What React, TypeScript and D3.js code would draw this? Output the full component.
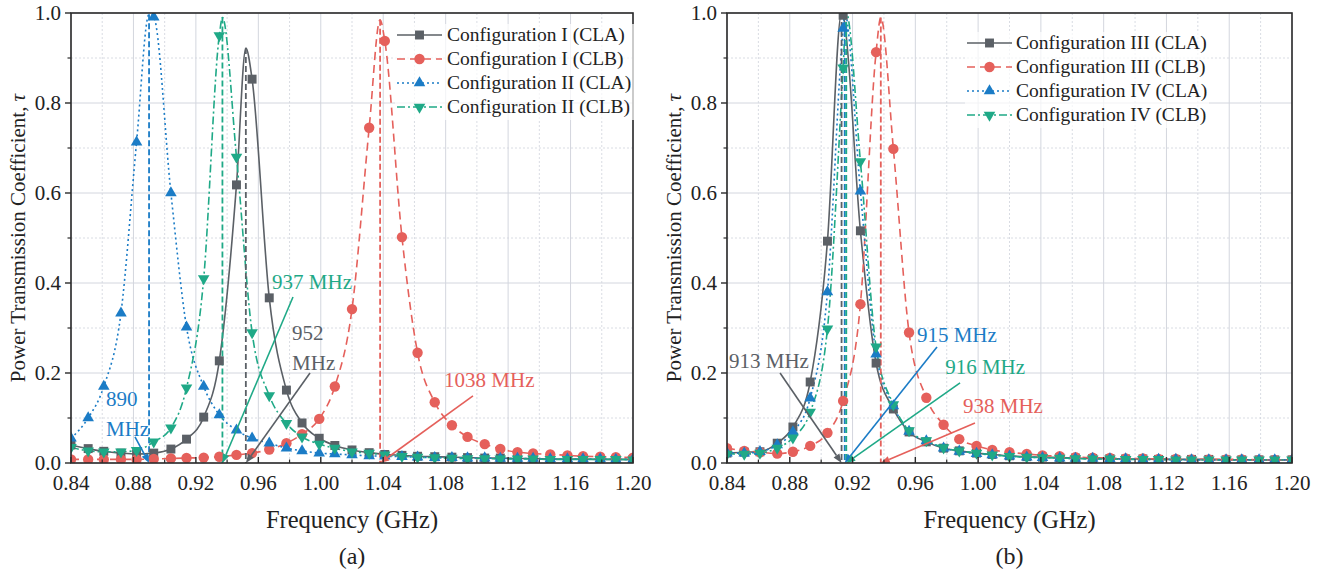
import React from 'react';
import * as d3 from 'd3';

// sampled frequencies (GHz) where markers sit
const freqs = [
  0.840, 0.851, 0.861, 0.872, 0.882, 0.893, 0.904, 0.914, 0.925, 0.935,
  0.946, 0.956, 0.967, 0.978, 0.988, 0.999, 1.009, 1.020, 1.031, 1.041,
  1.052, 1.062, 1.073, 1.084, 1.094, 1.105, 1.115, 1.126, 1.136, 1.147,
  1.158, 1.168, 1.179, 1.189, 1.200,
];

const xMajor = [0.84, 0.88, 0.92, 0.96, 1.0, 1.04, 1.08, 1.12, 1.16, 1.2];
const xMinor = [0.86, 0.9, 0.94, 0.98, 1.02, 1.06, 1.1, 1.14, 1.18];
const yMajor = [0, 0.2, 0.4, 0.6, 0.8, 1.0];
const yMinor = [0.1, 0.3, 0.5, 0.7, 0.9];

// panel (a)
const cfgI_CLA = [0.040, 0.032, 0.026, 0.022, 0.020, 0.022, 0.031, 0.053, 0.102, 0.227, 0.618, 0.853, 0.367, 0.162, 0.089, 0.055, 0.039, 0.029, 0.023, 0.019, 0.017, 0.015, 0.014, 0.013, 0.012, 0.011, 0.011, 0.010, 0.010, 0.009, 0.009, 0.009, 0.008, 0.008, 0.008];
const cfgI_CLB = [0.008, 0.008, 0.008, 0.008, 0.008, 0.009, 0.010, 0.011, 0.012, 0.014, 0.018, 0.022, 0.030, 0.044, 0.064, 0.098, 0.170, 0.342, 0.745, 0.938, 0.502, 0.245, 0.135, 0.084, 0.058, 0.042, 0.031, 0.024, 0.021, 0.019, 0.017, 0.015, 0.014, 0.013, 0.012];
const cfgII_CLA = [0.055, 0.100, 0.170, 0.333, 0.713, 0.991, 0.600, 0.302, 0.170, 0.107, 0.073, 0.055, 0.044, 0.033, 0.027, 0.022, 0.020, 0.018, 0.016, 0.015, 0.014, 0.013, 0.012, 0.012, 0.011, 0.011, 0.010, 0.010, 0.010, 0.009, 0.009, 0.009, 0.009, 0.008, 0.008];
const cfgII_CLB = [0.035, 0.027, 0.025, 0.025, 0.028, 0.047, 0.078, 0.167, 0.410, 0.950, 0.680, 0.290, 0.150, 0.088, 0.058, 0.042, 0.033, 0.025, 0.022, 0.018, 0.015, 0.013, 0.012, 0.011, 0.010, 0.010, 0.009, 0.009, 0.009, 0.008, 0.008, 0.008, 0.008, 0.008, 0.007];
// resonance peaks [freq, tau]
const peaksA = [[0.952, 0.922], [1.038, 0.985], [0.890, 0.997], [0.937, 0.990]];
const namesA = ['Configuration I (CLA)', 'Configuration I (CLB)', 'Configuration II (CLA)', 'Configuration II (CLB)'];

// panel (b)
const cfgIII_CLA = [0.022, 0.024, 0.025, 0.044, 0.080, 0.180, 0.493, 0.995, 0.516, 0.222, 0.120, 0.069, 0.047, 0.033, 0.027, 0.022, 0.019, 0.016, 0.014, 0.013, 0.012, 0.011, 0.010, 0.010, 0.009, 0.009, 0.008, 0.008, 0.008, 0.008, 0.007, 0.007, 0.007, 0.007, 0.007];
const cfgIII_CLB = [0.033, 0.027, 0.024, 0.021, 0.025, 0.038, 0.067, 0.138, 0.353, 0.913, 0.698, 0.290, 0.145, 0.085, 0.053, 0.038, 0.029, 0.024, 0.020, 0.017, 0.015, 0.013, 0.012, 0.011, 0.010, 0.010, 0.009, 0.009, 0.008, 0.008, 0.008, 0.008, 0.007, 0.007, 0.007];
const cfgIV_CLA = [0.022, 0.022, 0.025, 0.040, 0.069, 0.144, 0.380, 0.966, 0.604, 0.242, 0.127, 0.070, 0.049, 0.033, 0.026, 0.021, 0.018, 0.015, 0.013, 0.012, 0.011, 0.010, 0.010, 0.009, 0.009, 0.008, 0.008, 0.008, 0.007, 0.007, 0.007, 0.007, 0.007, 0.007, 0.007];
const cfgIV_CLB = [0.020, 0.020, 0.022, 0.033, 0.056, 0.113, 0.298, 0.878, 0.670, 0.258, 0.130, 0.072, 0.050, 0.034, 0.027, 0.022, 0.018, 0.015, 0.013, 0.012, 0.011, 0.010, 0.009, 0.009, 0.008, 0.008, 0.008, 0.007, 0.007, 0.007, 0.007, 0.007, 0.007, 0.007, 0.007];
const peaksB = [[0.913, 1.0], [0.938, 0.99], [0.915, 1.0], [0.916, 1.0]];
const namesB = ['Configuration III (CLA)', 'Configuration III (CLB)', 'Configuration IV (CLA)', 'Configuration IV (CLB)'];

// annotations: label lines, text anchor (freq, tau), line start (freq, tau), target freq, series index
const notesA = [
  { lines: ['890', 'MHz'], at: [0.8624, 0.127], from: [0.881, 0.058], to: 0.890, s: 2 },
  { lines: ['937 MHz'], at: [0.9688, 0.387], from: [0.9822, 0.369], to: 0.937, s: 3 },
  { lines: ['952', 'MHz'], at: [0.9816, 0.273], from: [0.9931, 0.200], to: 0.952, s: 0 },
  { lines: ['1038 MHz'], at: [1.0790, 0.169], from: [1.0975, 0.149], to: 1.038, s: 1 },
];
const notesB = [
  { lines: ['913 MHz'], at: [0.8413, 0.211], from: [0.8738, 0.200], to: 0.913, s: 0 },
  { lines: ['915 MHz'], at: [0.9610, 0.269], from: [0.9738, 0.258], to: 0.915, s: 2 },
  { lines: ['916 MHz'], at: [0.9790, 0.198], from: [0.9885, 0.178], to: 0.916, s: 3 },
  { lines: ['938 MHz'], at: [0.9904, 0.111], from: [0.9980, 0.089], to: 0.938, s: 1 },
];

const colors = ['#5b6066', '#e5605b', '#1b7cc6', '#1fa987'];
const dashes = ['none', '8,5', '2,3', '8,3,2,3'];
const symbols = [d3.symbolSquare, d3.symbolCircle, d3.symbolTriangle, d3.symbolTriangle];
const symSizes = [80, 85, 58, 58];
const serif = { fontFamily: "'Liberation Serif', Tinos, serif" };

function Panel({ box, series, peaks, names, notes, legend, ylabX, tag }) {
  const x = d3.scaleLinear().domain([0.84, 1.2]).range([box.left, box.right]);
  const y = d3.scaleLinear().domain([0, 1]).range([box.bottom, box.top]);
  const line = d3.line().x(d => x(d[0])).y(d => y(d[1])).curve(d3.curveMonotoneX);
  const cx = (box.left + box.right) / 2;

  const symPath = (i) => d3.symbol().type(symbols[i]).size(symSizes[i])();

  return (
    <g>
      <defs>
        <clipPath id={'clip' + tag}>
          <rect x={box.left} y={box.top} width={box.right - box.left} height={box.bottom - box.top} />
        </clipPath>
      </defs>
      {/* grid */}
      {xMinor.map(v => <line key={'xm' + v} x1={x(v)} x2={x(v)} y1={box.top} y2={box.bottom} stroke="#cfd3dc" strokeDasharray="2,2" strokeWidth={0.8} />)}
      {yMinor.map(v => <line key={'ym' + v} y1={y(v)} y2={y(v)} x1={box.left} x2={box.right} stroke="#cfd3dc" strokeDasharray="2,2" strokeWidth={0.8} />)}
      {xMajor.map(v => <line key={'xg' + v} x1={x(v)} x2={x(v)} y1={box.top} y2={box.bottom} stroke="#d3d6de" strokeWidth={1} />)}
      {yMajor.map(v => <line key={'yg' + v} y1={y(v)} y2={y(v)} x1={box.left} x2={box.right} stroke="#d3d6de" strokeWidth={1} />)}

      <g clipPath={`url(#clip${tag})`}>
        {/* curves */}
        {series.map((vals, i) => {
          const pts = freqs.map((f, k) => [f, vals[k]]).concat([peaks[i]]).sort((a, b) => a[0] - b[0]);
          return <path key={'l' + i} d={line(pts)} fill="none" stroke={colors[i]} strokeWidth={1.6} strokeDasharray={dashes[i]} />;
        })}
        {/* drop lines at resonance */}
        {peaks.map((p, i) => (
          <line key={'d' + i} x1={x(p[0])} x2={x(p[0])} y1={y(p[1])} y2={y(0)} stroke={colors[i]} strokeWidth={1.8} strokeDasharray="6,3" />
        ))}
        {/* markers */}
        {series.map((vals, i) => (
          <g key={'m' + i} fill={colors[i]}>
            {vals.map((v, k) => (
              <path key={k} d={symPath(i)} transform={`translate(${x(freqs[k])},${y(v)})${i === 3 ? ' rotate(180)' : ''}`} />
            ))}
          </g>
        ))}
      </g>

      {/* annotations */}
      {notes.map((n, j) => {
        const c = colors[n.s];
        const x1 = x(n.from[0]), y1 = y(n.from[1]);
        const x2 = x(n.to), y2 = y(0);
        const ang = Math.atan2(y2 - y1, x2 - x1);
        const L = 9, Wd = 3.5;
        const bx = x2 - L * Math.cos(ang), by = y2 - L * Math.sin(ang);
        const head = [
          [x2, y2],
          [bx + Wd * Math.sin(ang), by - Wd * Math.cos(ang)],
          [bx - Wd * Math.sin(ang), by + Wd * Math.cos(ang)],
        ];
        return (
          <g key={'n' + j}>
            <line x1={x1} y1={y1} x2={bx} y2={by} stroke={c} strokeWidth={1.6} />
            <polygon points={head.map(p => p.join(',')).join(' ')} fill={c} />
            {n.lines.map((t, r) => (
              <text key={r} x={x(n.at[0])} y={y(n.at[1]) + r * 30} fill={c} fontSize={21} style={serif}>{t}</text>
            ))}
          </g>
        );
      })}

      {/* frame */}
      <rect x={box.left} y={box.top} width={box.right - box.left} height={box.bottom - box.top} fill="none" stroke="#2a2a2a" strokeWidth={1.6} />

      {/* ticks */}
      {xMajor.map(v => <line key={'xt' + v} x1={x(v)} x2={x(v)} y1={box.bottom} y2={box.bottom - 6} stroke="#2a2a2a" strokeWidth={1.4} />)}
      {xMinor.map(v => <line key={'xmt' + v} x1={x(v)} x2={x(v)} y1={box.bottom} y2={box.bottom - 3.5} stroke="#2a2a2a" strokeWidth={1.2} />)}
      {yMajor.map(v => <line key={'yt' + v} x1={box.left} x2={box.left - 6} y1={y(v)} y2={y(v)} stroke="#2a2a2a" strokeWidth={1.4} />)}
      {yMinor.map(v => <line key={'ymt' + v} x1={box.left} x2={box.left - 3.5} y1={y(v)} y2={y(v)} stroke="#2a2a2a" strokeWidth={1.2} />)}

      {xMajor.map(v => (
        <text key={'xl' + v} x={x(v)} y={box.bottom + 27} textAnchor="middle" fontSize={21} style={serif} fill="#222">{v.toFixed(2)}</text>
      ))}
      {yMajor.map(v => (
        <text key={'yl' + v} x={box.left - 10} y={y(v) + 7} textAnchor="end" fontSize={21} style={serif} fill="#222">{v.toFixed(1)}</text>
      ))}

      <text x={cx} y={528} textAnchor="middle" fontSize={24.5} style={serif} fill="#222">Frequency (GHz)</text>
      <text x={cx} y={564} textAnchor="middle" fontSize={24} style={serif} fill="#222">{`(${tag})`}</text>
      <text transform={`translate(${ylabX},${(box.top + box.bottom) / 2}) rotate(-90)`} textAnchor="middle" fontSize={21} style={serif} fill="#222">
        Power Transmission Coefficient, <tspan fontStyle="italic">τ</tspan>
      </text>

      {/* legend */}
      {names.map((nm, i) => {
        const ly = legend.y0 + i * legend.dy;
        return (
          <g key={'lg' + i}>
            <rect x={legend.x0 - 2} y={ly - 11} width={legend.tx - legend.x0 + 195} height={legend.dy} fill="white" opacity={0.7} />
            <line x1={legend.x0} x2={legend.x1} y1={ly} y2={ly} stroke={colors[i]} strokeWidth={1.6} strokeDasharray={dashes[i]} />
            <path d={symPath(i)} fill={colors[i]} transform={`translate(${(legend.x0 + legend.x1) / 2},${ly})${i === 3 ? ' rotate(180)' : ''}`} />
            <text x={legend.tx} y={ly + 6} fontSize={19.5} style={serif} fill="#222">{nm}</text>
          </g>
        );
      })}
    </g>
  );
}

export default function App() {
  return (
    <svg width={1332} height={576} style={{ position: 'absolute', left: 0, top: 0, background: 'white' }}>
      <rect width={1332} height={576} fill="white" />
      <Panel
        tag="a"
        box={{ left: 71, right: 633, top: 13, bottom: 463 }}
        series={[cfgI_CLA, cfgI_CLB, cfgII_CLA, cfgII_CLB]}
        peaks={peaksA}
        names={namesA}
        notes={notesA}
        legend={{ x0: 397, x1: 442, tx: 447, y0: 35, dy: 24 }}
        ylabX={25}
      />
      <Panel
        tag="b"
        box={{ left: 727, right: 1292, top: 13, bottom: 463 }}
        series={[cfgIII_CLA, cfgIII_CLB, cfgIV_CLA, cfgIV_CLB]}
        peaks={peaksB}
        names={namesB}
        notes={notesB}
        legend={{ x0: 967, x1: 1012, tx: 1016, y0: 43, dy: 24 }}
        ylabX={681}
      />
    </svg>
  );
}
